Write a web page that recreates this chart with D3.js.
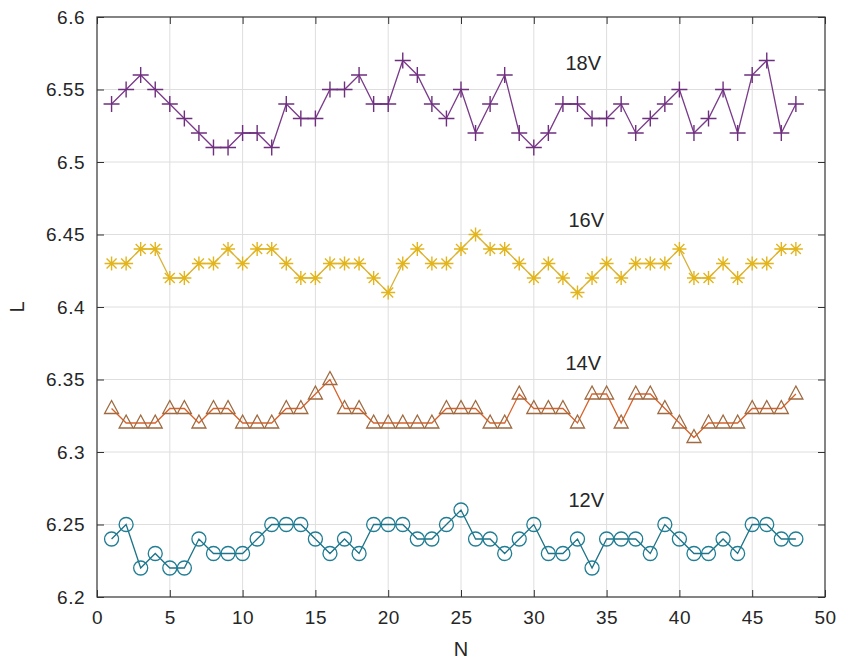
<!DOCTYPE html>
<html><head><meta charset="utf-8">
<script src="https://cdn.jsdelivr.net/npm/d3@7"></script>
<style>body{margin:0;background:#fff}svg{display:block}text{font-family:"Liberation Sans",Arial,sans-serif}</style>
</head><body><svg id="c" width="857" height="664"></svg>
<script>
const N = d3.range(1, 49);
const v18 = [6.54,6.55,6.56,6.55,6.54,6.53,6.52,6.51,6.51,6.52,6.52,6.51,6.54,6.53,6.53,6.55,6.55,6.56,6.54,6.54,6.57,6.56,6.54,6.53,6.55,6.52,6.54,6.56,6.52,6.51,6.52,6.54,6.54,6.53,6.53,6.54,6.52,6.53,6.54,6.55,6.52,6.53,6.55,6.52,6.56,6.57,6.52,6.54];
const v16 = [6.43,6.43,6.44,6.44,6.42,6.42,6.43,6.43,6.44,6.43,6.44,6.44,6.43,6.42,6.42,6.43,6.43,6.43,6.42,6.41,6.43,6.44,6.43,6.43,6.44,6.45,6.44,6.44,6.43,6.42,6.43,6.42,6.41,6.42,6.43,6.42,6.43,6.43,6.43,6.44,6.42,6.42,6.43,6.42,6.43,6.43,6.44,6.44];
const v14 = [6.33,6.32,6.32,6.32,6.33,6.33,6.32,6.33,6.33,6.32,6.32,6.32,6.33,6.33,6.34,6.35,6.33,6.33,6.32,6.32,6.32,6.32,6.32,6.33,6.33,6.33,6.32,6.32,6.34,6.33,6.33,6.33,6.32,6.34,6.34,6.32,6.34,6.34,6.33,6.32,6.31,6.32,6.32,6.32,6.33,6.33,6.33,6.34];
const v12 = [6.24,6.25,6.22,6.23,6.22,6.22,6.24,6.23,6.23,6.23,6.24,6.25,6.25,6.25,6.24,6.23,6.24,6.23,6.25,6.25,6.25,6.24,6.24,6.25,6.26,6.24,6.24,6.23,6.24,6.25,6.23,6.23,6.24,6.22,6.24,6.24,6.24,6.23,6.25,6.24,6.23,6.23,6.24,6.23,6.25,6.25,6.24,6.24];
const seriesNames = ["18V","16V","14V","12V"];
const xTicks = d3.range(0, 51, 5);
const yTicks = [6.2,6.25,6.3,6.35,6.4,6.45,6.5,6.55,6.6];
const labelPos = [[33.4,6.567],[33.6,6.459],[33.4,6.360],[33.6,6.2655]]; // data coords for series labels

const series = [
  {name:"18V", vals:v18, line:"#7a3a8a", mk:"#6e2f7e", shape:"plus"},
  {name:"16V", vals:v16, line:"#d9b23a", mk:"#e3b51c", shape:"star"},
  {name:"14V", vals:v14, line:"#d9622a", mk:"#9e6a40", shape:"tri"},
  {name:"12V", vals:v12, line:"#1d7388", mk:"#1f7d94", shape:"circle"}
];

const W=857,H=664, m={l:97,t:17,r:32,b:67};
const svg=d3.select("#c");
const x=d3.scaleLinear().domain([0,50]).range([m.l,W-m.r]);
const y=d3.scaleLinear().domain([6.2,6.6]).range([H-m.b,m.t]);

// grid
svg.append("g").selectAll("line").data(xTicks.slice(1,-1)).join("line")
  .attr("x1",d=>x(d)).attr("x2",d=>x(d)).attr("y1",y(6.6)).attr("y2",y(6.2))
  .attr("stroke","#dedede").attr("stroke-width",1);
svg.append("g").selectAll("line").data(yTicks.slice(1,-1)).join("line")
  .attr("y1",d=>y(d)).attr("y2",d=>y(d)).attr("x1",x(0)).attr("x2",x(50))
  .attr("stroke","#dedede").attr("stroke-width",1);

// axes
const tickStyle=g=>{g.select(".domain").remove();g.selectAll("line").attr("stroke","#333");g.selectAll("text").attr("fill","#262626").attr("font-size","19px").attr("letter-spacing","0.5px");};
svg.append("g").attr("transform",`translate(0,${y(6.2)})`)
  .call(d3.axisBottom(x).tickValues(xTicks).tickSize(-7).tickPadding(14).tickFormat(d3.format("d"))).call(tickStyle);
svg.append("g").attr("transform",`translate(0,${y(6.6)})`)
  .call(d3.axisTop(x).tickValues(xTicks).tickSize(-7).tickFormat("")).call(tickStyle);
svg.append("g").attr("transform",`translate(${x(0)},0)`)
  .call(d3.axisLeft(y).tickValues(yTicks).tickSize(-7).tickPadding(12).tickFormat(d=>d3.format("")(+d.toFixed(2)))).call(tickStyle);
svg.append("g").attr("transform",`translate(${x(50)},0)`)
  .call(d3.axisRight(y).tickValues(yTicks).tickSize(-7).tickFormat("")).call(tickStyle);
svg.append("rect").attr("x",x(0)).attr("y",y(6.6)).attr("width",x(50)-x(0)).attr("height",y(6.2)-y(6.6))
  .attr("fill","none").attr("stroke","#333").attr("stroke-width",1.2);

// axis labels
svg.append("text").attr("x",(x(0)+x(50))/2).attr("y",656).attr("text-anchor","middle")
  .attr("font-size","20px").attr("fill","#262626").text("N");
svg.append("text").attr("transform",`translate(24,${y(6.4)}) rotate(-90)`).attr("text-anchor","middle")
  .attr("font-size","20px").attr("fill","#262626").text("L");

// series
const line=d3.line().x((d,i)=>x(N[i])).y(d=>y(d));
series.forEach(s=>{
  const g=svg.append("g");
  g.append("path").attr("d",line(s.vals)).attr("fill","none").attr("stroke",s.line).attr("stroke-width",1.3);
  const pts=g.selectAll("g").data(s.vals).join("g").attr("transform",(d,i)=>`translate(${x(N[i])},${y(d)})`);
  if(s.shape==="plus"){
    pts.append("path").attr("d","M-8,0H8M0,-8V8").attr("stroke",s.mk).attr("stroke-width",1.4).attr("fill","none");
  } else if(s.shape==="star"){
    pts.append("path").attr("d","M-7,0H7M0,-7V7M-5,-5L5,5M-5,5L5,-5").attr("stroke",s.mk).attr("stroke-width",1.4).attr("fill","none");
  } else if(s.shape==="tri"){
    pts.append("path").attr("d","M0,-8L7,5H-7Z").attr("stroke",s.mk).attr("stroke-width",1.3).attr("fill","none");
  } else {
    pts.append("circle").attr("r",7).attr("stroke",s.mk).attr("stroke-width",1.3).attr("fill","none");
  }
});

// series labels
svg.append("g").selectAll("text").data(seriesNames).join("text")
  .attr("x",(d,i)=>x(labelPos[i][0])).attr("y",(d,i)=>y(labelPos[i][1]))
  .attr("text-anchor","middle").attr("dominant-baseline","middle")
  .attr("font-size","20px").attr("fill","#262626").text(d=>d);
</script></body></html>
